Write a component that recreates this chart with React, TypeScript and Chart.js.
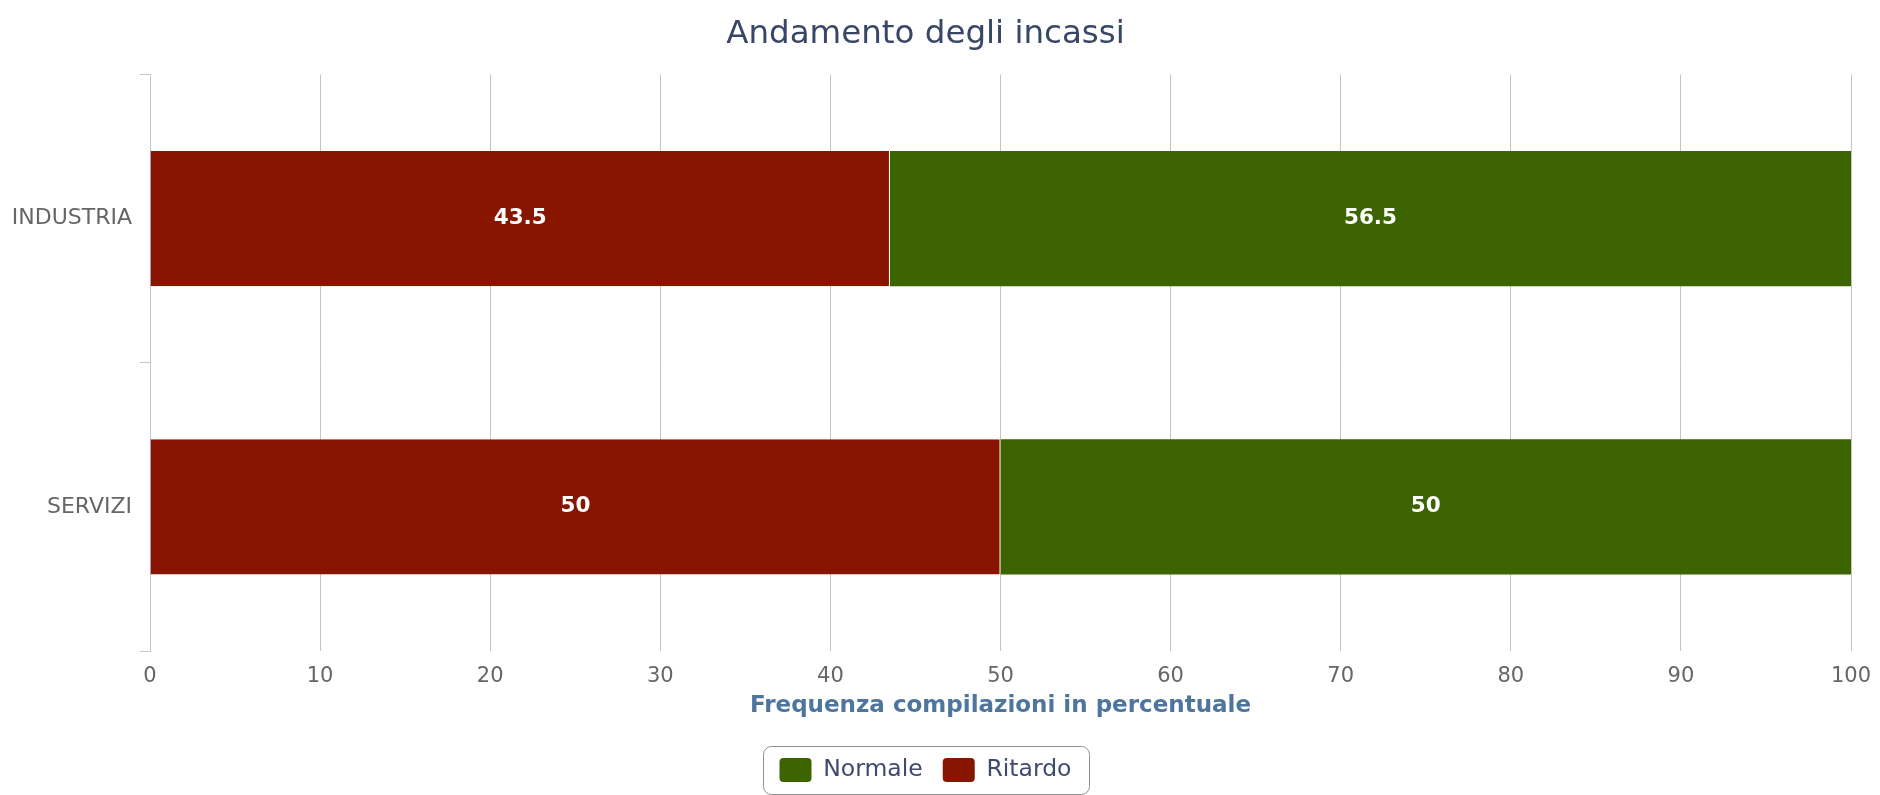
import { useEffect, useRef } from "react";
import { Chart, registerables } from "chart.js";

Chart.register(...registerables);

const titleText = "Andamento degli incassi";
const xAxisTitle = "Frequenza compilazioni in percentuale";
const categories = ["INDUSTRIA", "SERVIZI"];
const ritardoValues = [43.5, 50];
const normaleValues = [56.5, 50];
const seriesNames = ["Ritardo", "Normale"];
const xMin = 0;
const xMax = 100;
const xStep = 10;

const FONT = "'DejaVu Sans', Verdana, sans-serif";
const RED = "#881500";
const GREEN = "#3C6400";

const dataLabelPlugin = {
  id: "dataLabels",
  afterDatasetsDraw(chart: any) {
    const ctx = chart.ctx;
    ctx.save();
    ctx.font = `bold 21.5px ${FONT}`;
    ctx.fillStyle = "#ffffff";
    ctx.textAlign = "center";
    ctx.textBaseline = "middle";
    chart.data.datasets.forEach((ds: any, di: number) => {
      const meta = chart.getDatasetMeta(di);
      meta.data.forEach((el: any, i: number) => {
        const p = el.getCenterPoint();
        ctx.fillText(String(ds.data[i]), p.x, p.y);
      });
    });
    ctx.restore();
  },
};

const legendBorderPlugin = {
  id: "legendBorder",
  afterDraw(chart: any) {
    const lg = chart.legend;
    if (!lg || !lg.legendHitBoxes || !lg.legendHitBoxes.length) return;
    const boxes = lg.legendHitBoxes;
    let l = Infinity, r = -Infinity, t = Infinity, b = -Infinity;
    boxes.forEach((h: any) => {
      l = Math.min(l, h.left);
      r = Math.max(r, h.left + h.width);
      t = Math.min(t, h.top);
      b = Math.max(b, h.top + h.height);
    });
    const ctx = chart.ctx;
    ctx.save();
    ctx.strokeStyle = "#909090";
    ctx.lineWidth = 1;
    ctx.beginPath();
    const x = Math.round(l - 16), y = Math.round(t - 12), w = Math.round(r - l + 34), h = Math.round(b - t + 24);
    if (ctx.roundRect) ctx.roundRect(x + 0.5, y + 0.5, w, h, 8);
    else ctx.rect(x + 0.5, y + 0.5, w, h);
    ctx.stroke();
    ctx.restore();
  },
};

export default function App() {
  const ref = useRef<HTMLCanvasElement>(null);
  useEffect(() => {
    document.body.style.margin = "0";
    const canvas = ref.current!;
    const chart = new Chart(canvas, {
      type: "bar",
      data: {
        labels: categories,
        datasets: [
          {
            label: seriesNames[0],
            data: ritardoValues,
            backgroundColor: RED,
            borderColor: "#ffffff",
            borderWidth: { top: 0, right: 1, bottom: 0, left: 0 },
            borderSkipped: false,
            categoryPercentage: 1,
            barPercentage: 0.47,
          },
          {
            label: seriesNames[1],
            data: normaleValues,
            backgroundColor: GREEN,
            borderWidth: 0,
            categoryPercentage: 1,
            barPercentage: 0.47,
          },
        ],
      },
      options: {
        indexAxis: "y",
        responsive: false,
        animation: false,
        devicePixelRatio: 1,
        layout: { padding: { left: 0, right: 29, top: 0, bottom: 3 } },
        plugins: {
          title: {
            display: true,
            text: titleText,
            color: "#394766",
            font: { family: FONT, size: 32.5, weight: "normal" },
            padding: { top: 15.5, bottom: 20 },
          },
          legend: {
            display: true,
            position: "bottom",
            reverse: true,
            labels: {
              color: "#3E4A6E",
              font: { family: FONT, size: 23.5 },
              boxWidth: 32,
              boxHeight: 24,
              padding: 20,
              useBorderRadius: true,
              borderRadius: 4,
              generateLabels: (c: any) =>
                (Chart.defaults.plugins.legend.labels as any)
                  .generateLabels(c)
                  .map((it: any) => ({ ...it, lineWidth: 0, strokeStyle: it.fillStyle, borderRadius: 4 })),
            },
          },
          tooltip: { enabled: false },
        },
        scales: {
          x: {
            type: "linear",
            stacked: true,
            min: xMin,
            max: xMax,
            afterFit: (s: any) => {
              s.height = 87;
              s.paddingLeft = 0;
              s.paddingRight = 0;
            },
            ticks: { stepSize: xStep, color: "#666666", font: { family: FONT, size: 21 }, padding: 12.5 },
            grid: { color: "#C4C4C4", drawTicks: false },
            border: { display: false },
            title: {
              display: true,
              text: xAxisTitle,
              color: "#4D759E",
              font: { family: FONT, size: 23, weight: "bold" },
              padding: { top: 2, bottom: 18.5 },
            },
          },
          y: {
            type: "category",
            stacked: true,
            afterFit: (s: any) => {
              s.width = 150;
            },
            ticks: { color: "#666666", font: { family: FONT, size: 22 }, padding: 8 },
            grid: { offset: true, drawOnChartArea: false, tickLength: 10, color: "#C0C8D0" },
            border: { display: true, color: "#C0C8D0" },
          },
        },
      },
      plugins: [dataLabelPlugin, legendBorderPlugin],
    } as any);
    return () => chart.destroy();
  }, []);
  return <canvas ref={ref} width={1880} height={795} style={{ display: "block" }} />;
}
